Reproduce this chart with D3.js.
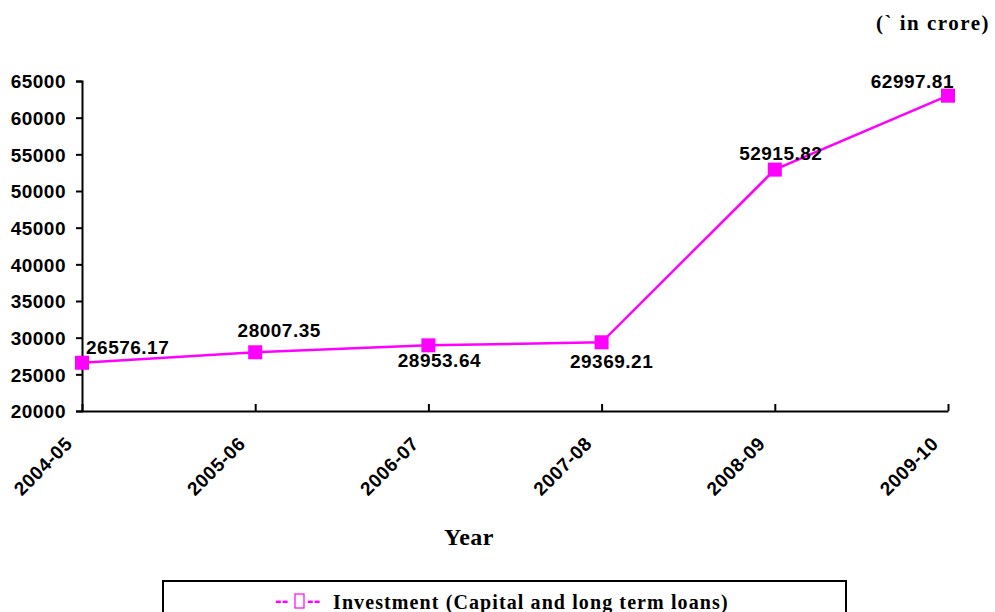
<!DOCTYPE html>
<html>
<head>
<meta charset="utf-8">
<script src="https://cdn.jsdelivr.net/npm/d3@7"></script>
<style>
body { margin: 0; background: #fff; }
.tickText { font-family: "Liberation Sans", Arial, sans-serif; font-weight: bold; font-size: 19px; letter-spacing: 0.5px; fill: #000; }
.valueLabel { font-family: "Liberation Sans", Arial, sans-serif; font-weight: bold; font-size: 19px; letter-spacing: 0.5px; fill: #000; }
.serif { font-family: "Liberation Serif", "Times New Roman", serif; font-weight: bold; fill: #000; }
</style>
</head>
<body>
<script>
//values
var years = ["2004-05", "2005-06", "2006-07", "2007-08", "2008-09", "2009-10"];
var investment = [26576.17, 28007.35, 28953.64, 29369.21, 52915.82, 62997.81];
var yTicks = [20000, 25000, 30000, 35000, 40000, 45000, 50000, 55000, 60000, 65000];

//where each value label sits relative to its marker
var labelAnchor = ["start", "middle", "middle", "middle", "middle", "end"];
var labelDx = [4, 24, 11, 10, 6, 6];
var labelDy = [-9, -15, 22, 26, -10, -8];

var width = 995,
    height = 612;

var svg = d3.select("body")
    .append("svg")
    .attr("width", width)
    .attr("height", height);

var x = d3.scalePoint()
    .domain(years)
    .range([82, 948]);

var y = d3.scaleLinear()
    .domain([20000, 65000])
    .range([411, 81]);

//y axis, ticks outward
var yAxis = d3.axisLeft(y)
    .tickValues(yTicks)
    .tickSize(6)
    .tickFormat(d3.format("d"));

var gy = svg.append("g")
    .attr("transform", "translate(" + x.range()[0] + ",0)")
    .call(yAxis);
gy.select(".domain").attr("stroke", "#000").attr("stroke-width", 2);
gy.selectAll(".tick line").attr("stroke", "#000").attr("stroke-width", 2);
gy.selectAll(".tick text")
    .attr("class", "tickText")
    .attr("x", -16)
    .attr("dy", "0.36em");

//x axis, ticks pointing up
var xAxis = d3.axisBottom(x)
    .tickSizeInner(-7)
    .tickSizeOuter(0);

var gx = svg.append("g")
    .attr("transform", "translate(0," + y(20000) + ")")
    .call(xAxis);
gx.select(".domain").attr("stroke", "#000").attr("stroke-width", 2);
gx.selectAll(".tick line").attr("stroke", "#000").attr("stroke-width", 2);
gx.selectAll(".tick text")
    .attr("class", "tickText")
    .attr("text-anchor", "end")
    .attr("x", 0)
    .attr("y", 0)
    .attr("dy", 0)
    .attr("transform", "translate(-9,34) rotate(-45)");

//line
var line = d3.line()
    .x(function(d, i){ return x(years[i]); })
    .y(function(d){ return y(d); });

svg.append("path")
    .datum(investment)
    .attr("fill", "none")
    .attr("stroke", "#ff00ff")
    .attr("stroke-width", 2.5)
    .attr("d", line);

var ms = 14;
svg.selectAll(".marker")
    .data(investment)
    .enter()
    .append("rect")
    .attr("class", "marker")
    .attr("x", function(d, i){ return x(years[i]) - ms / 2; })
    .attr("y", function(d){ return y(d) - ms / 2; })
    .attr("width", ms)
    .attr("height", ms)
    .attr("fill", "#ff00ff");

//data labels
svg.selectAll(".valueLabel")
    .data(investment)
    .enter()
    .append("text")
    .attr("class", "valueLabel")
    .attr("text-anchor", function(d, i){ return labelAnchor[i]; })
    .attr("x", function(d, i){ return x(years[i]) + labelDx[i]; })
    .attr("y", function(d, i){ return y(d) + labelDy[i]; })
    .text(function(d){ return d3.format(".2f")(d); });

//titles
svg.append("text")
    .attr("class", "serif")
    .attr("x", 469)
    .attr("y", 545)
    .attr("text-anchor", "middle")
    .style("font-size", "24px")
    .style("letter-spacing", "0.5px")
    .text("Year");

svg.append("text")
    .attr("class", "serif")
    .attr("x", 990)
    .attr("y", 30)
    .attr("text-anchor", "end")
    .style("font-size", "21px")
    .style("letter-spacing", "1.5px")
    .text("(`  in crore)");

//legend
svg.append("rect")
    .attr("x", 163)
    .attr("y", 581)
    .attr("width", 683)
    .attr("height", 40)
    .attr("fill", "none")
    .attr("stroke", "#000")
    .attr("stroke-width", 2);

svg.append("text")
    .attr("x", 275)
    .attr("y", 607)
    .attr("fill", "#ff00ff")
    .style("font-family", "Liberation Sans, Arial, sans-serif")
    .style("font-weight", "bold")
    .style("font-size", "20px")
    .text("--");
svg.append("rect")
    .attr("x", 295)
    .attr("y", 594)
    .attr("width", 9)
    .attr("height", 14)
    .attr("fill", "none")
    .attr("stroke", "#ff00ff")
    .attr("stroke-width", 1.2);
svg.append("text")
    .attr("x", 307)
    .attr("y", 607)
    .attr("fill", "#ff00ff")
    .style("font-family", "Liberation Sans, Arial, sans-serif")
    .style("font-weight", "bold")
    .style("font-size", "20px")
    .text("--");

svg.append("text")
    .attr("class", "serif")
    .attr("x", 333)
    .attr("y", 609)
    .style("font-size", "20px")
    .style("letter-spacing", "1.1px")
    .text("Investment (Capital and long term loans)");
</script>
</body>
</html>
